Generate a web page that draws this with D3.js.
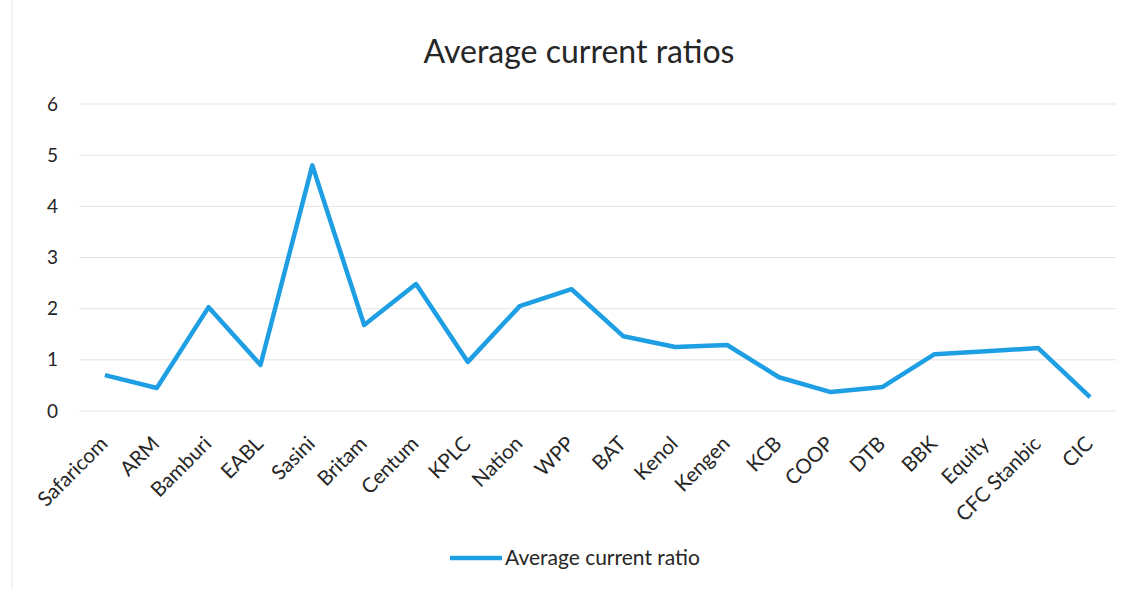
<!DOCTYPE html>
<html><head><meta charset="utf-8">
<script src="https://cdn.jsdelivr.net/npm/d3@7"></script>
<style>body{margin:0;background:#fff;} svg{display:block;font-family:Lato, "Open Sans", sans-serif;}</style>
</head><body>
<svg id="c" width="1122" height="590"></svg>
<script>
const categories = ["Safaricom","ARM","Bamburi","EABL","Sasini","Britam","Centum","KPLC","Nation","WPP","BAT","Kenol","Kengen","KCB","COOP","DTB","BBK","Equity","CFC Stanbic","CIC"];
const values = [0.70,0.45,2.03,0.90,4.80,1.68,2.48,0.96,2.05,2.38,1.46,1.25,1.29,0.66,0.37,0.47,1.11,1.17,1.23,0.27];
const yTicks = [0,1,2,3,4,5,6];
const seriesName = "Average current ratio";
const title = "Average current ratios";

(function(){
const svg = d3.select("#c");
const pL = 79, pR = 1116, pT = 104, pB = 411;
const x = d3.scaleBand().domain(categories).range([pL, pR]);
const y = d3.scaleLinear().domain([0,6]).range([pB, pT]);
const color = "#1e9ee3";

svg.append("rect").attr("x",12).attr("y",-2).attr("width",1130).attr("height",600)
  .attr("fill","none").attr("stroke","#ececec");

svg.append("text").attr("x",579).attr("y",63).attr("text-anchor","middle")
  .attr("font-size",32).attr("fill","#262626").text(title);

svg.append("g").selectAll("line").data(yTicks).join("line")
  .attr("x1",pL).attr("x2",pR).attr("y1",d=>y(d)).attr("y2",d=>y(d))
  .attr("stroke","#e3e3e3").attr("stroke-width",1);

const ya = svg.append("g").attr("transform",`translate(${pL},0)`)
  .call(d3.axisLeft(y).tickValues(yTicks).tickFormat(d3.format("d")).tickSize(0).tickPadding(21));
ya.select(".domain").remove();
ya.selectAll("text").attr("font-size",19).attr("fill","#262626").attr("font-family","Lato, sans-serif");

const xa = svg.append("g").attr("transform",`translate(0,${pB})`)
  .call(d3.axisBottom(x).tickSize(0).tickPadding(0));
xa.select(".domain").remove();
xa.selectAll("text").attr("font-size",20.5).attr("fill","#262626").attr("font-family","Lato, sans-serif")
  .attr("text-anchor","end").attr("dy",0).attr("y",0)
  .attr("transform","translate(4,34) rotate(-45)");

const line = d3.line().x((d,i)=>x(categories[i])+x.bandwidth()/2).y(d=>y(d));
svg.append("path").datum(values).attr("d",line).attr("fill","none")
  .attr("stroke",color).attr("stroke-width",4.5).attr("stroke-linejoin","round");

svg.append("line").attr("x1",450).attr("x2",502).attr("y1",558).attr("y2",558)
  .attr("stroke",color).attr("stroke-width",4.5);
svg.append("text").attr("x",505).attr("y",565).attr("font-size",21).attr("fill","#262626").text(seriesName);
})();
</script>
</body></html>
